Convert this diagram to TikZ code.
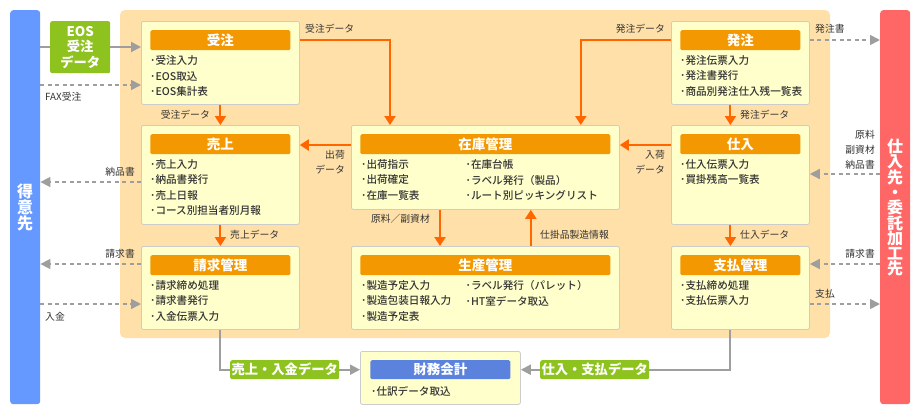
\documentclass[tikz,border=0pt]{standalone}
\usepackage{fontspec}
\setmainfont{Noto Sans CJK JP}
\newfontfamily\medjp{Noto Sans CJK JP Medium}
\usepackage{xcolor}
\usetikzlibrary{arrows.meta,positioning,calc}
\definecolor{custblue}{HTML}{6699FF}
\definecolor{suppred}{HTML}{FF6666}
\definecolor{bgorange}{HTML}{FFE0A8}
\definecolor{boxfill}{HTML}{FFFFCC}
\definecolor{boxline}{HTML}{CCCCCC}
\definecolor{headorange}{HTML}{F39800}
\definecolor{floworange}{HTML}{FF6600}
\definecolor{eosgreen}{HTML}{8DC21F}
\definecolor{finblue}{HTML}{5B82DC}
\definecolor{arrowgray}{HTML}{9E9E9E}
\definecolor{textgray}{HTML}{333333}
\newcommand{\headfont}{\bfseries\fontsize{13.5}{16}\selectfont}
\newcommand{\itemfont}{\medjp\fontsize{10.6}{15.3}\selectfont}
\newcommand{\lblfont}{\fontsize{9.8}{15}\selectfont}
\newcommand{\greenfont}{\bfseries\fontsize{13.3}{15.5}\selectfont}
\newcommand{\barfont}{\bfseries\fontsize{16}{15}\selectfont}

\begin{document}
\begin{tikzpicture}[x=1pt,y=-1pt,
  bar/.style={text=white,font=\barfont,align=center,rounded corners=3pt,anchor=north west,inner sep=0pt,minimum width=30pt,minimum height=394pt},
  panel/.style={draw=boxline,fill=boxfill,rounded corners=2pt,anchor=north west,inner sep=0pt,line width=0.8pt},
  head/.style={fill=headorange,text=white,font=\headfont,rounded corners=1.5pt,anchor=north,inner sep=0pt,minimum height=20pt},
  items/.style={anchor=north west,align=left,inner sep=0pt,text=textgray,font=\itemfont},
  lbl/.style={inner sep=0pt,text=textgray,font=\lblfont},
  greenbox/.style={fill=eosgreen,text=white,font=\greenfont,rounded corners=2pt,anchor=north west,inner sep=0pt},
  flow/.style={draw=floworange,line width=2pt,-{Triangle[length=9pt,width=11pt]}},
  gline/.style={draw=arrowgray,line width=2pt},
  garrow/.style={gline,-{Triangle[length=10pt,width=10pt]}},
  dflow/.style={draw=arrowgray,line width=1.6pt,dash pattern=on 4pt off 3.5pt,-{Triangle[length=10pt,width=10pt]}}]
\useasboundingbox (0,0) rectangle (920,415);
% background and side bars
\fill[bgorange,rounded corners=5pt] (120,10) rectangle (830,338);
\node[bar,fill=custblue] (cust) at (10,10) {得\\意\\先};
\node[bar,fill=suppred] (supp) at (880,10) {仕\\入\\先\\・\\委\\託\\加\\工\\先};

% left column
\node[panel,minimum width=158pt,minimum height=83pt] (jc) at (141,21) {};
\node[head,minimum width=140pt] (jch) at ([yshift=-9pt]jc.north) {受注};
\node[items] (jci) at ([shift={(9pt,-34.5pt)}]jc.north west) {･受注入力\\･EOS取込\\･EOS集計表};
\node[panel,minimum width=158pt,minimum height=99pt] (ur) at (141,125) {};
\node[head,minimum width=140pt] (urh) at ([yshift=-9pt]ur.north) {売上};
\node[items] (uri) at ([shift={(9pt,-34.5pt)}]ur.north west) {･売上入力\\･納品書発行\\･売上日報\\･コース別担当者別月報};
\node[panel,minimum width=158pt,minimum height=83pt] (sq) at (141,246) {};
\node[head,minimum width=140pt] (sqh) at ([yshift=-9pt]sq.north) {請求管理};
\node[items] (sqi) at ([shift={(9pt,-34.5pt)}]sq.north west) {･請求締め処理\\･請求書発行\\･入金伝票入力};

% middle column
\node[panel,minimum width=268pt,minimum height=84pt] (zk) at (351,125) {};
\node[head,minimum width=250pt] (zkh) at ([yshift=-9pt]zk.north) {在庫管理};
\node[items] (zki) at ([shift={(10pt,-34.5pt)}]zk.north west) {･出荷指示\\･出荷確定\\･在庫一覧表};
\node[items] (zkj) at ([shift={(114.5pt,-34.5pt)}]zk.north west) {･在庫台帳\\･ラベル発行（製品）\\･ルート別ピッキングリスト};
\node[panel,minimum width=268pt,minimum height=83pt] (sk) at (351,246) {};
\node[head,minimum width=250pt] (skh) at ([yshift=-9pt]sk.north) {生産管理};
\node[items] (ski) at ([shift={(10pt,-34.5pt)}]sk.north west) {･製造予定入力\\･製造包装日報入力\\･製造予定表};
\node[items] (skj) at ([shift={(114.5pt,-34.5pt)}]sk.north west) {･ラベル発行（パレット）\\･HT室データ取込};

% right column
\node[panel,minimum width=138pt,minimum height=83pt] (hc) at (671,21) {};
\node[head,minimum width=120pt] (hch) at ([yshift=-9pt]hc.north) {発注};
\node[items] (hci) at ([shift={(9pt,-34.5pt)}]hc.north west) {･発注伝票入力\\･発注書発行\\･商品別発注仕入残一覧表};
\node[panel,minimum width=138pt,minimum height=99pt] (si) at (671,125) {};
\node[head,minimum width=120pt] (sih) at ([yshift=-9pt]si.north) {仕入};
\node[items] (sii) at ([shift={(9pt,-34.5pt)}]si.north west) {･仕入伝票入力\\･買掛残高一覧表};
\node[panel,minimum width=138pt,minimum height=83pt] (sh) at (671,246) {};
\node[head,minimum width=120pt] (shh) at ([yshift=-9pt]sh.north) {支払管理};
\node[items] (shi) at ([shift={(9pt,-34.5pt)}]sh.north west) {･支払締め処理\\･支払伝票入力};

% accounting
\node[panel,minimum width=160pt,minimum height=53pt] (zm) at (360,351) {};
\node[head,fill=finblue,minimum width=140pt,minimum height=19pt] (zmh) at ([yshift=-9pt]zm.north) {財務会計};
\node[items] (zmi) at ([shift={(11pt,-35.5pt)}]zm.north west) {･仕訳データ取込};

% orange flows
\draw[flow] (jc.south) -- (ur.north);
\draw[flow] (ur.south) -- (sq.north);
\draw[flow] ([xshift=-10pt]hc.south) -- ([xshift=-10pt]si.north);
\draw[flow] ([xshift=-10pt]si.south) -- ([xshift=-10pt]sh.north);
\draw[flow] (jc.east |- 0,40) -| ([xshift=39pt]zk.north west);
\draw[flow] (hc.west |- 0,40) -| ([xshift=-39pt]zk.north east);
\draw[flow] (zk.west |- 0,145) -- (ur.east |- 0,145);
\draw[flow] (si.west |- 0,145) -- (zk.east |- 0,145);
\draw[flow] ([xshift=89pt]zk.south west) -- ([xshift=89pt]sk.north west);
\draw[flow] ([xshift=-89pt]sk.north east) -- ([xshift=-89pt]zk.south east);

% grey flows to the outside
\draw[garrow] (cust.east |- 0,47) -- (jc.west |- 0,47);
\draw[dflow] (cust.east |- 0,85) -- (jc.west |- 0,85);
\draw[dflow] (ur.west |- 0,182) -- (cust.east |- 0,182);
\draw[dflow] (sq.west |- 0,264) -- (cust.east |- 0,264);
\draw[dflow] (cust.east |- 0,304) -- (sq.west |- 0,304);
\draw[dflow] (hc.east |- 0,40) -- (supp.west |- 0,40);
\draw[dflow] (supp.west |- 0,174) -- (si.east |- 0,174);
\draw[dflow] (supp.west |- 0,264) -- (sh.east |- 0,264);
\draw[dflow] (sh.east |- 0,304) -- (supp.west |- 0,304);

% green data boxes
\node[greenbox,minimum width=60pt,minimum height=52pt,align=center] (eos) at (50,21) {EOS\\受注\\データ};
\node[greenbox,minimum width=109pt,minimum height=19pt] (uk) at (230,360) {売上・入金データ};
\node[greenbox,minimum width=109pt,minimum height=19pt] (sd) at (540,360) {仕入・支払データ};
\draw[gline] (sq.south) |- (uk.west);
\draw[gline] ([xshift=-10pt]sh.south) |- (sd.east);
\draw[garrow] (uk.east) -- (zm.west |- uk.east);
\draw[garrow] (sd.west) -- (zm.east |- sd.west);

% labels
\node[lbl,anchor=west] (lfax) at (45,97) {FAX受注};
\node[lbl,anchor=east] (ljc) at (210,115) {受注データ};
\node[lbl,anchor=west] (ljtop) at (305,29) {受注データ};
\node[lbl,anchor=east] (lhtop) at (665,29) {発注データ};
\node[lbl,anchor=west] (lhs) at (815,29) {発注書};
\node[lbl,anchor=west] (lhc) at (740,115) {発注データ};
\node[lbl,anchor=east] (lnh) at (135,172) {納品書};
\node[lbl,anchor=east,align=right] (lsk) at (345,162.5) {出荷\\データ};
\node[lbl,anchor=east,align=right] (lnk) at (665,162.5) {入荷\\データ};
\node[lbl,anchor=east,align=right] (lgr) at (875,150) {原料\\副資材\\納品書};
\node[lbl,anchor=west] (lur) at (230,235) {売上データ};
\node[lbl,anchor=east] (lgs) at (430,219) {原料／副資材};
\node[lbl,anchor=west] (lsj) at (540,235) {仕掛品製造情報};
\node[lbl,anchor=west] (lsi) at (740,235) {仕入データ};
\node[lbl,anchor=east] (lsql) at (135,254) {請求書};
\node[lbl,anchor=east] (lsqr) at (875,254) {請求書};
\node[lbl,anchor=west] (lnk2) at (45,317) {入金};
\node[lbl,anchor=west] (lsh) at (815,294) {支払};
\end{tikzpicture}
\end{document}
